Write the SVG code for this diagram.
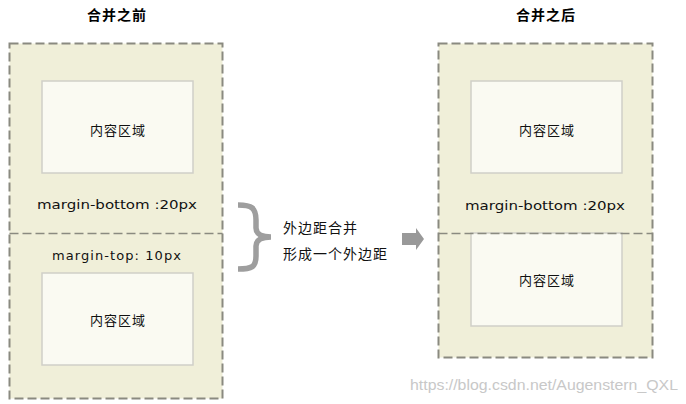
<svg xmlns="http://www.w3.org/2000/svg" width="686" height="404" viewBox="0 0 686 404">
<style>
.outer{fill:#f0efd9;stroke:#8a8a80;stroke-width:2;stroke-dasharray:9,4}
.div{stroke:#8a8a80;stroke-width:1.5;stroke-dasharray:9,4;fill:none}
.inner{fill:#fafaf2;stroke:#cfcfc8;stroke-width:1.5}
.cn{font-family:"Noto Sans CJK SC","DejaVu Sans",sans-serif;font-size:13px;fill:#111;letter-spacing:1px}
.lb{font-family:"Noto Sans CJK SC","DejaVu Sans",sans-serif;font-size:14px;fill:#111;letter-spacing:1px}
.title{font-family:"Noto Sans CJK SC","DejaVu Sans",sans-serif;font-size:14px;font-weight:bold;fill:#000;letter-spacing:1px}
.m{font-family:"DejaVu Sans",sans-serif;font-size:13px;fill:#111}
.wm{font-family:"Liberation Sans",Arial,sans-serif;font-size:14px;fill:#c8c8c8}
</style>
<rect width="686" height="404" fill="#ffffff"/>
<g id="before">
  <text class="title" x="117" y="20" text-anchor="middle">合并之前</text>
  <rect class="outer" x="9.5" y="43.5" width="213" height="355"/>
  <line class="div" x1="9.5" y1="233.5" x2="222.5" y2="233.5"/>
  <rect class="inner" x="42" y="81" width="151" height="92"/>
  <text class="cn" x="118" y="135" text-anchor="middle">内容区域</text>
  <text class="m" x="37" y="209" textLength="160" lengthAdjust="spacingAndGlyphs">margin-bottom :20px</text>
  <text class="m" x="52" y="260" textLength="129" lengthAdjust="spacing">margin-top: 10px</text>
  <rect class="inner" x="42" y="273" width="151" height="92"/>
  <text class="cn" x="118" y="325" text-anchor="middle">内容区域</text>
</g>
<g id="brace">
  <path d="M238,205 C252,205 256,208 256,220 L256,228 C256,234 262,237 271,237 C262,237 256,240 256,246 L256,256 C256,267 252,269 238,269" fill="none" stroke="#9e9e9e" stroke-width="5.5"/>
</g>
<g id="label">
  <text class="lb" x="283" y="233">外边距合并</text>
  <text class="lb" x="283" y="259">形成一个外边距</text>
</g>
<g id="connectors">
  <polygon points="402,233 416,233 416,228 424,239 416,250 416,245 402,245" fill="#999999"/>
</g>
<g id="after">
  <text class="title" x="546" y="20" text-anchor="middle">合并之后</text>
  <rect class="outer" x="438.5" y="43.5" width="214" height="314"/>
  <rect class="inner" x="471" y="81" width="151" height="92"/>
  <text class="cn" x="547" y="135" text-anchor="middle">内容区域</text>
  <text class="m" x="465" y="210" textLength="160" lengthAdjust="spacingAndGlyphs">margin-bottom :20px</text>
  <rect class="inner" x="471" y="233" width="151" height="93"/>
  <line class="div" x1="438.5" y1="233.5" x2="652.5" y2="233.5"/>
  <text class="cn" x="547" y="285" text-anchor="middle">内容区域</text>
</g>
<text class="wm" x="410" y="390" textLength="268" lengthAdjust="spacingAndGlyphs">https://blog.csdn.net/Augenstern_QXL</text>
</svg>
